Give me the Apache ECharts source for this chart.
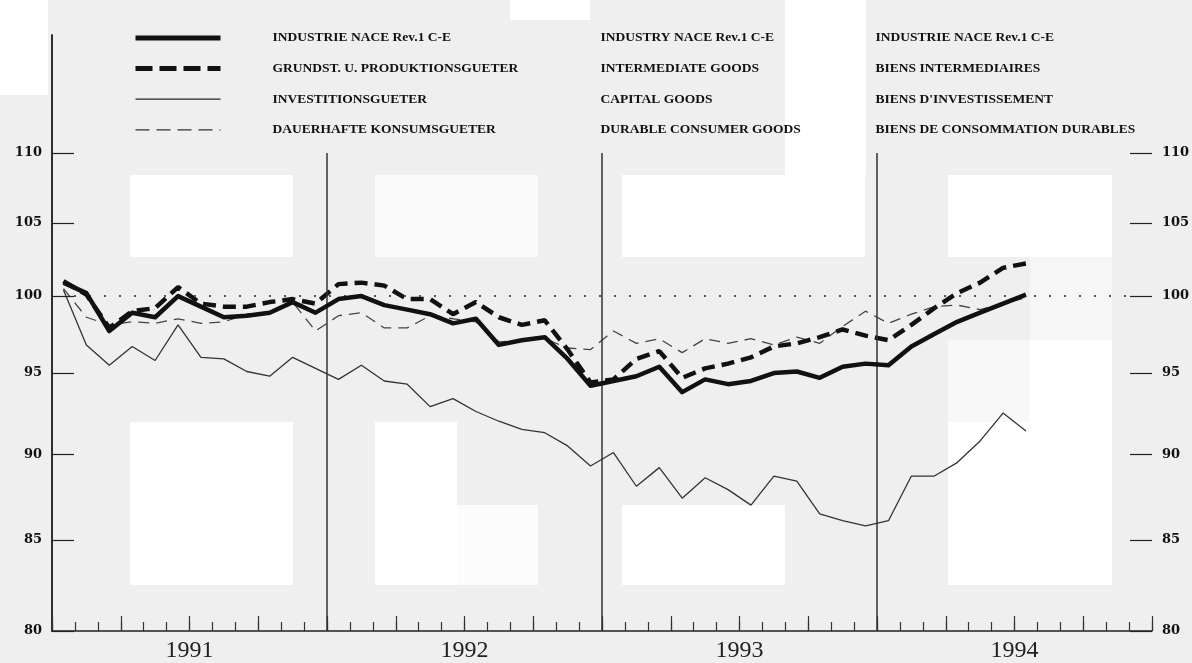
<!DOCTYPE html>
<html><head><meta charset="utf-8">
<script src="https://cdn.jsdelivr.net/npm/echarts@6/dist/echarts.min.js"></script>
<style>html,body{margin:0;padding:0;background:#efefef}#c{width:1192px;height:663px}</style>
</head><body><div id="c"></div>
<script>
// ---- data: monthly index values, Jan 1991 .. Jul 1994 ----
const yearLabels = ['1991', '1992', '1993', '1994'];
const yTicks = [80, 85, 90, 95, 100, 105, 110];
const namesDE = ['INDUSTRIE NACE Rev.1 C-E', 'GRUNDST. U. PRODUKTIONSGUETER', 'INVESTITIONSGUETER', 'DAUERHAFTE KONSUMSGUETER'];
const namesEN = ['INDUSTRY NACE Rev.1 C-E', 'INTERMEDIATE GOODS', 'CAPITAL GOODS', 'DURABLE CONSUMER GOODS'];
const namesFR = ['INDUSTRIE NACE Rev.1 C-E', 'BIENS INTERMEDIAIRES', "BIENS D'INVESTISSEMENT", 'BIENS DE CONSOMMATION DURABLES'];

const industrie = [100.9, 100.2, 97.7, 98.9, 98.6, 100.0, 99.3, 98.6, 98.7, 98.9, 99.6, 98.9,
  99.8, 100.0, 99.4, 99.1, 98.8, 98.2, 98.5, 96.8, 97.1, 97.3, 95.9, 94.2,
  94.5, 94.8, 95.4, 93.8, 94.6, 94.3, 94.5, 95.0, 95.1, 94.7, 95.4, 95.6,
  95.5, 96.7, 97.5, 98.3, 98.9, 99.5, 100.1];
const grundst = [101.0, 100.1, 97.9, 99.0, 99.2, 100.6, 99.5, 99.3, 99.3, 99.6, 99.8, 99.5,
  100.8, 100.9, 100.7, 99.8, 99.8, 98.8, 99.6, 98.6, 98.1, 98.4, 96.5, 94.4,
  94.6, 95.9, 96.4, 94.7, 95.3, 95.6, 96.0, 96.7, 96.9, 97.3, 97.8, 97.4,
  97.1, 98.1, 99.2, 100.2, 100.9, 101.9, 102.2];
const investition = [100.4, 96.8, 95.5, 96.7, 95.8, 98.1, 96.0, 95.9, 95.1, 94.8, 96.0, 95.3,
  94.6, 95.5, 94.5, 94.3, 92.9, 93.4, 92.6, 92.0, 91.5, 91.3, 90.5, 89.3,
  90.1, 88.1, 89.2, 87.4, 88.6, 87.9, 87.0, 88.7, 88.4, 86.5, 86.1, 85.8,
  86.1, 88.7, 88.7, 89.5, 90.8, 92.5, 91.4];
const dauerhafte = [100.5, 98.6, 98.1, 98.3, 98.2, 98.5, 98.2, 98.3, 98.8, 98.9, 99.6, 97.7,
  98.7, 98.9, 97.9, 97.9, 98.7, 98.5, 98.3, 97.0, 97.1, 97.2, 96.6, 96.5,
  97.7, 96.9, 97.2, 96.3, 97.2, 96.9, 97.2, 96.8, 97.3, 96.9, 98.0, 99.0,
  98.2, 98.8, 99.3, 99.4, 99.1, 99.5, 99.9];

// ---- chart ----
const MONTHS = 48;
const TICK = 0.96; // tick length in months
const pts = arr => arr.map((v, i) => [i + 0.5, v]);

const labelFont = { fontFamily: 'DejaVu Serif', fontWeight: 'bold', fontSize: 13, color: '#111', padding: [4, 0, 0, 0] };
const markData = [];
yTicks.forEach(t => {
  markData.push([{ coord: [0, t], name: String(t), label: Object.assign({ show: true, position: 'start', distance: 10 }, labelFont) }, { coord: [TICK, t] }]);
  markData.push([{ coord: [MONTHS - TICK, t], name: String(t), label: Object.assign({ show: true, position: 'end', distance: 10 }, labelFont) }, { coord: [MONTHS, t] }]);
});
[12, 24, 36].forEach(m => {
  markData.push([{ coord: [m, 80], lineStyle: { color: '#333', width: 1.5 } }, { coord: [m, 110] }]);
});
markData.push([{ coord: [TICK, 100], lineStyle: { color: '#555', width: 2, type: [2, 13] } }, { coord: [MONTHS - TICK, 100] }]);

// scan background patches (x, y, w, h, fill)
const patches = [
  [0, 0, 48, 95, '#ffffff'], [510, 0, 80, 20, '#ffffff'], [785, 0, 81, 175, '#ffffff'],
  [130, 175, 163, 82, '#ffffff'], [375, 175, 163, 82, '#fafafa'], [622, 175, 243, 82, '#ffffff'], [948, 175, 164, 82, '#ffffff'],
  [1030, 257, 82, 83, '#f6f6f6'], [948, 340, 82, 82, '#f8f8f8'], [1030, 340, 82, 82, '#ffffff'],
  [130, 422, 163, 163, '#ffffff'], [375, 422, 82, 163, '#ffffff'], [457, 505, 81, 80, '#fcfcfc'],
  [622, 505, 163, 80, '#ffffff'], [948, 422, 164, 163, '#ffffff']
];

const legendLines = [
  { color: '#111', width: 5, type: 'solid' },
  { color: '#111', width: 5, type: [17, 7] },
  { color: '#222', width: 1.3, type: 'solid' },
  { color: '#333', width: 1.3, type: [14, 7] }
];
const txt = { fontFamily: 'Liberation Serif', fontWeight: 'bold', fontSize: 13.5, color: '#111', lineHeight: 14 };

const chart = echarts.init(document.getElementById('c'), null, { renderer: 'canvas' });
chart.setOption({
  animation: false,
  backgroundColor: '#efefef',
  graphic: patches.map(p => ({ type: 'rect', z: -10, silent: true, shape: { x: p[0], y: p[1], width: p[2], height: p[3] }, style: { fill: p[4] } })),
  grid: { left: 52, right: 40, top: 35, bottom: 32 },
  legend: {
    orient: 'vertical', left: 128, top: 26, itemWidth: 85, itemHeight: 14, itemGap: 16.6,
    selectedMode: false,
    itemStyle: { opacity: 0, borderWidth: 0 },
    data: namesDE.map((n, i) => ({ name: n, lineStyle: legendLines[i] })),
    formatter: name => { const i = namesDE.indexOf(name); return '{s| }{a|' + name + '}{b|' + namesEN[i] + '}{c|' + namesFR[i] + '}'; },
    textStyle: {
      rich: {
        s: { width: 47, lineHeight: 14 },
        a: Object.assign({ width: 328 }, txt),
        b: Object.assign({ width: 275 }, txt),
        c: Object.assign({}, txt)
      }
    }
  },
  xAxis: [
    {
      type: 'value', min: 0, max: MONTHS, interval: 1, position: 'bottom',
      axisLine: { show: true, lineStyle: { color: '#222', width: 1.5 } },
      axisTick: { show: true, inside: true, length: 9, lineStyle: { color: '#333', width: 1.2 } },
      axisLabel: { margin: 8, fontFamily: 'Liberation Serif', fontSize: 24, color: '#222', lineHeight: 24,
        formatter: v => (v % 12 === 6 ? yearLabels[(v - 6) / 12] : '') },
      splitLine: { show: false }
    },
    {
      type: 'value', min: 0, max: MONTHS, interval: 3, position: 'bottom', offset: 0,
      axisLine: { show: false },
      axisTick: { show: true, inside: true, length: 15, lineStyle: { color: '#333', width: 1.2 } },
      axisLabel: { show: false }, splitLine: { show: false }
    }
  ],
  yAxis: [
    { type: 'log', min: 80, max: 119, position: 'left',
      axisLine: { show: true, lineStyle: { color: '#222', width: 1.5 } },
      axisTick: { show: false }, axisLabel: { show: false }, splitLine: { show: false } },
    { type: 'log', min: 80, max: 119, position: 'right',
      axisLine: { show: true, lineStyle: { color: '#222', width: 1.5 } },
      axisTick: { show: false }, axisLabel: { show: false }, splitLine: { show: false } }
  ],
  series: [
    { name: namesDE[0], type: 'line', data: pts(industrie), symbol: 'none', z: 5,
      lineStyle: { color: '#111', width: 4.5, join: 'round' }, itemStyle: { color: '#111' },
      markLine: { silent: true, symbol: ['none', 'none'], animation: false,
        lineStyle: { color: '#222', width: 1.2, type: 'solid' }, label: { show: false, formatter: '{b}' }, data: markData } },
    { name: namesDE[1], type: 'line', data: pts(grundst), symbol: 'none', z: 4,
      lineStyle: { color: '#111', width: 4.5, type: [13, 7] }, itemStyle: { color: '#111' } },
    { name: namesDE[2], type: 'line', data: pts(investition), symbol: 'none', z: 3,
      lineStyle: { color: '#333', width: 1.3 }, itemStyle: { color: '#333' } },
    { name: namesDE[3], type: 'line', data: pts(dauerhafte), symbol: 'none', z: 3,
      lineStyle: { color: '#444', width: 1.3, type: [11, 7] }, itemStyle: { color: '#444' } }
  ]
});
</script></body></html>
